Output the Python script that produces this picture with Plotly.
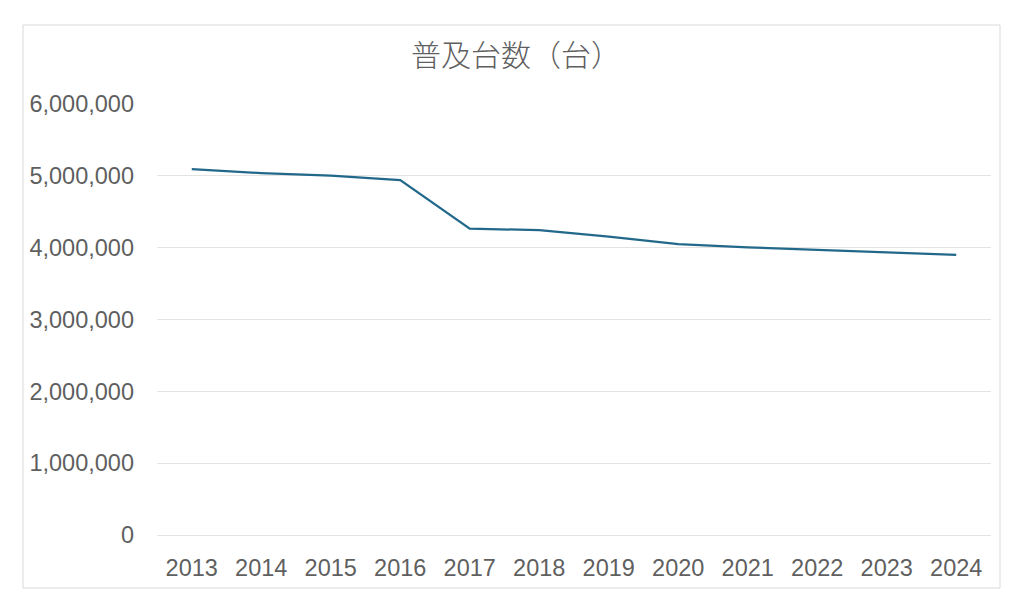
import plotly.graph_objects as go

# data
years = ["2013", "2014", "2015", "2016", "2017", "2018",
         "2019", "2020", "2021", "2022", "2023", "2024"]
units = [5093000, 5038000, 5004000, 4940000, 4265000, 4243000,
         4153000, 4050000, 4005000, 3972000, 3936000, 3900000]
y_ticks = [0, 1000000, 2000000, 3000000, 4000000, 5000000, 6000000]
y_tick_labels = ["0", "1,000,000", "2,000,000", "3,000,000",
                 "4,000,000", "5,000,000", "6,000,000"]

text_gray = "#5F5F5F"

fig = go.Figure()
fig.add_trace(go.Scatter(x=years, y=units, mode="lines",
                         line=dict(color="#22688A", width=2.25),
                         hoverinfo="x+y"))

# page body has an 8px margin, so the figure is sized 8px smaller
fig.update_layout(
    width=1016, height=606,
    margin=dict(l=149, r=33, t=96, b=79),
    paper_bgcolor="white", plot_bgcolor="white",
    showlegend=False,
    title=dict(text="普及台数（台）", x=0.5, xanchor="center",
               y=0.921, yanchor="middle",
               font=dict(family="Noto Sans CJK JP", size=30, color=text_gray,
                         weight=300)),
    font=dict(family="Liberation Sans, Arial", color=text_gray),
)

fig.update_xaxes(type="category", range=[-0.5, 11.5],
                 showgrid=False, showline=False, zeroline=False,
                 ticks="", tickfont=dict(size=23.5, color=text_gray),
                 ticklabelstandoff=16)
fig.update_yaxes(range=[0, 6000000], tickvals=y_ticks, ticktext=y_tick_labels,
                 showgrid=True, gridcolor="#E3E3E3", gridwidth=1,
                 zeroline=True, zerolinecolor="#E3E3E3", zerolinewidth=1,
                 showline=False, ticks="",
                 tickfont=dict(size=23.5, color=text_gray),
                 ticklabelstandoff=22)

# chart-area border
fig.add_shape(type="rect", xref="paper", yref="paper",
              x0=(15 - 149) / 834, x1=(992 - 149) / 834,
              y0=(527 - 580) / 431, y1=(527 - 17) / 431,
              line=dict(color="#D9D9D9", width=1), layer="below")

fig.write_html("out.html")
